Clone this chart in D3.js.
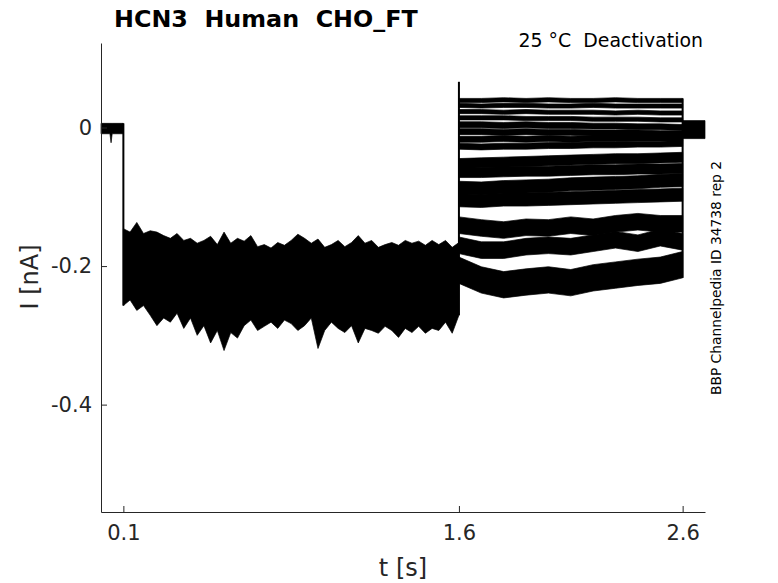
<!DOCTYPE html>
<html>
<head>
<meta charset="utf-8">
<script src="https://cdn.jsdelivr.net/npm/d3@7"></script>
<style>
  body { margin: 0; background: #fff; }
  text { font-family: "DejaVu Sans", sans-serif; white-space: pre; }
</style>
</head>
<body>
<div id="chart"></div>
<script>
// tick labels
var xTicks = [0.1, 1.6, 2.6];
var yTicks = [0, -0.2, -0.4];

// holding level before the step (t in s, I in nA), upper / lower edge of the noise
var preT = [0.0, 0.04, 0.045, 0.05, 0.1];
var preTop = [0.006, 0.006, 0.006, 0.006, 0.006];
var preBot = [-0.009, -0.009, -0.022, -0.009, -0.009];

// activation step: all sweeps overlap, upper and lower edge of the black band
var actT = [0.10, 0.13, 0.16, 0.19, 0.22, 0.25, 0.28, 0.31, 0.34, 0.37,
            0.40, 0.43, 0.46, 0.49, 0.52, 0.55, 0.58, 0.61, 0.64, 0.67,
            0.70, 0.73, 0.76, 0.79, 0.82, 0.85, 0.88, 0.91, 0.94, 0.97,
            1.00, 1.03, 1.06, 1.09, 1.12, 1.15, 1.18, 1.21, 1.24, 1.27,
            1.30, 1.33, 1.36, 1.39, 1.42, 1.45, 1.48, 1.51, 1.54, 1.57, 1.60];
var actTop = [-0.146, -0.151, -0.137, -0.153, -0.149, -0.151, -0.156, -0.160, -0.153, -0.163,
              -0.160, -0.167, -0.163, -0.157, -0.169, -0.151, -0.167, -0.160, -0.164, -0.156,
              -0.172, -0.169, -0.174, -0.166, -0.170, -0.163, -0.154, -0.160, -0.167, -0.161,
              -0.173, -0.169, -0.163, -0.172, -0.166, -0.156, -0.167, -0.163, -0.173, -0.169,
              -0.166, -0.170, -0.163, -0.167, -0.164, -0.170, -0.163, -0.169, -0.163, -0.173, -0.166];
var actBot = [-0.257, -0.249, -0.264, -0.257, -0.271, -0.286, -0.275, -0.281, -0.268, -0.290,
              -0.275, -0.300, -0.286, -0.311, -0.293, -0.322, -0.296, -0.304, -0.286, -0.278,
              -0.293, -0.287, -0.281, -0.290, -0.278, -0.283, -0.293, -0.286, -0.275, -0.319,
              -0.293, -0.281, -0.290, -0.296, -0.286, -0.311, -0.290, -0.293, -0.297, -0.287,
              -0.293, -0.303, -0.290, -0.296, -0.287, -0.297, -0.290, -0.293, -0.281, -0.297, -0.271];

// capacitive spike at the start of the deactivation step
var capPeak = 0.066;

// deactivation tails: mean level of each sweep at tailT, and half width of its noise
var tailT = [1.6, 1.7, 1.8, 1.9, 2.0, 2.1, 2.2, 2.3, 2.4, 2.5, 2.6];
var tailLevels = [
  [0.039, 0.039, 0.040, 0.039, 0.040, 0.039, 0.039, 0.040, 0.039, 0.039, 0.039],
  [0.032, 0.031, 0.032, 0.032, 0.031, 0.031, 0.032, 0.031, 0.031, 0.031, 0.031],
  [0.023, 0.023, 0.022, 0.023, 0.022, 0.022, 0.022, 0.021, 0.022, 0.021, 0.021],
  [0.014, 0.014, 0.014, 0.013, 0.013, 0.013, 0.012, 0.012, 0.012, 0.011, 0.011],
  [0.004, 0.004, 0.003, 0.004, 0.003, 0.003, 0.002, 0.002, 0.001, 0.001, 0.000],
  [-0.006, -0.006, -0.007, -0.006, -0.007, -0.007, -0.008, -0.008, -0.008, -0.009, -0.009],
  [-0.017, -0.017, -0.016, -0.017, -0.016, -0.017, -0.016, -0.016, -0.015, -0.015, -0.015],
  [-0.027, -0.028, -0.027, -0.027, -0.026, -0.026, -0.025, -0.025, -0.024, -0.024, -0.023],
  [-0.052, -0.051, -0.050, -0.049, -0.048, -0.047, -0.046, -0.045, -0.045, -0.044, -0.043],
  [-0.065, -0.065, -0.064, -0.063, -0.063, -0.062, -0.061, -0.061, -0.060, -0.060, -0.059],
  [-0.087, -0.088, -0.086, -0.085, -0.084, -0.082, -0.081, -0.080, -0.079, -0.077, -0.076],
  [-0.105, -0.106, -0.104, -0.104, -0.103, -0.102, -0.101, -0.100, -0.099, -0.098, -0.097],
  [-0.141, -0.145, -0.148, -0.144, -0.145, -0.141, -0.144, -0.139, -0.136, -0.139, -0.139],
  [-0.170, -0.177, -0.177, -0.172, -0.170, -0.172, -0.167, -0.162, -0.167, -0.159, -0.165],
  [-0.206, -0.220, -0.227, -0.223, -0.220, -0.224, -0.217, -0.213, -0.209, -0.206, -0.198]
];
var tailNoise = [0.003, 0.003, 0.003, 0.003, 0.0043, 0.0043, 0.0043, 0.0043,
                 0.0072, 0.0072, 0.0094, 0.0094, 0.012, 0.012, 0.019];

// back to holding level
var postT = [2.6, 2.7];
var postTop = [0.010, 0.010];
var postBot = [-0.016, -0.016];

var width = 778, height = 583;
var margin = { top: 43, right: 73, bottom: 71, left: 101 };

var svg = d3.select("#chart")
    .append("svg")
    .attr("width", width)
    .attr("height", height);

var x = d3.scaleLinear()
    .domain([0, 2.7])
    .range([margin.left, width - margin.right]);
var y = d3.scaleLinear()
    .domain([-0.555, 0.122])
    .range([height - margin.bottom, margin.top]);

var band = d3.area()
    .x(function (d) { return x(d.t); })
    .y0(function (d) { return y(d.lo); })
    .y1(function (d) { return y(d.hi); });

function zip(ts, hi, lo) {
  return ts.map(function (t, i) { return { t: t, hi: hi[i], lo: lo[i] }; });
}

var plot = svg.append("g");

// noise bands
function drawBand(data) {
  plot.append("path")
      .datum(data)
      .attr("fill", "#000")
      .attr("stroke", "#000")
      .attr("stroke-width", 0.7)
      .attr("d", band);
}

drawBand(zip(preT, preTop, preBot));
drawBand(zip(actT, actTop, actBot));
tailLevels.forEach(function (lev, i) {
  drawBand(tailT.map(function (t, j) {
    return { t: t, hi: lev[j] + tailNoise[i], lo: lev[j] - tailNoise[i] };
  }));
});
drawBand(zip(postT, postTop, postBot));

// voltage steps: vertical jumps of the sweeps
var lastTail = tailLevels.map(function (l) { return l[l.length - 1]; });
var steps = [
  { t: 0.1, a: preTop[preTop.length - 1], b: actBot[0] },
  { t: 1.6, a: actBot[actBot.length - 1], b: capPeak },
  { t: 2.6, a: d3.max(lastTail) + tailNoise[0], b: d3.min(lastTail) - tailNoise[tailNoise.length - 1] }
];
plot.selectAll(".step")
    .data(steps)
    .enter().append("line")
    .attr("class", "step")
    .attr("x1", function (d) { return x(d.t); })
    .attr("x2", function (d) { return x(d.t); })
    .attr("y1", function (d) { return y(d.a); })
    .attr("y2", function (d) { return y(d.b); })
    .attr("stroke", "#000")
    .attr("stroke-width", 2);

// axes (only left and bottom, ticks pointing inward)
var axisColor = "#262626";
var xAxis = svg.append("g")
    .attr("transform", "translate(0," + (height - margin.bottom) + ")")
    .call(d3.axisBottom(x).tickValues(xTicks).tickSizeInner(-6).tickSizeOuter(0).tickPadding(13)
        .tickFormat(d3.format("")));
var yAxis = svg.append("g")
    .attr("transform", "translate(" + margin.left + ",0)")
    .call(d3.axisLeft(y).tickValues(yTicks).tickSizeInner(-6).tickSizeOuter(0).tickPadding(9)
        .tickFormat(function (d) { return d === 0 ? "0" : String(d); }));

[xAxis, yAxis].forEach(function (g) {
  g.select(".domain").attr("stroke", axisColor).attr("stroke-width", 1);
  g.selectAll(".tick line").attr("stroke", axisColor).attr("stroke-width", 1);
  g.selectAll(".tick text")
      .attr("fill", axisColor)
      .style("font-family", "DejaVu Sans")
      .style("font-size", "21px");
});
xAxis.selectAll(".tick text").attr("dy", "0.71em");

// axis labels
svg.append("text")
    .attr("x", 403)
    .attr("y", 576)
    .attr("text-anchor", "middle")
    .attr("fill", axisColor)
    .style("font-size", "24px")
    .text("t [s]");
svg.append("text")
    .attr("transform", "translate(38,277) rotate(-90)")
    .attr("text-anchor", "middle")
    .attr("fill", axisColor)
    .style("font-size", "24px")
    .text("I [nA]");

// titles
svg.append("text")
    .attr("x", 114)
    .attr("y", 27)
    .attr("fill", "#000")
    .style("font-size", "23.8px")
    .style("font-weight", "bold")
    .text("HCN3  Human  CHO_FT");
svg.append("text")
    .attr("x", 703)
    .attr("y", 47)
    .attr("text-anchor", "end")
    .attr("fill", "#000")
    .style("font-size", "18.9px")
    .text("25 °C  Deactivation");
svg.append("text")
    .attr("transform", "translate(721,278) rotate(-90)")
    .attr("text-anchor", "middle")
    .attr("fill", "#000")
    .style("font-size", "13.8px")
    .text("BBP Channelpedia ID 34738 rep 2");
</script>
</body>
</html>
